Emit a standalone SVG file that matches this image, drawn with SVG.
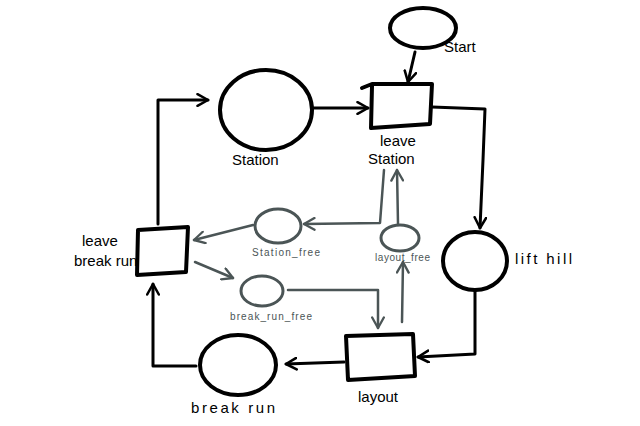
<svg xmlns="http://www.w3.org/2000/svg" width="640" height="426" viewBox="0 0 640 426">
<defs>
<marker id="ab" viewBox="0 0 12 12" refX="10" refY="6" markerWidth="14" markerHeight="14" markerUnits="userSpaceOnUse" orient="auto">
<path d="M1,1 L10,6 L1,11" fill="none" stroke="#000" stroke-width="2.2" stroke-linecap="round" stroke-linejoin="round"/>
</marker>
<marker id="ag" viewBox="0 0 12 12" refX="10" refY="6" markerWidth="14" markerHeight="14" markerUnits="userSpaceOnUse" orient="auto">
<path d="M1,1 L10,6 L1,11" fill="none" stroke="#4b5556" stroke-width="2" stroke-linecap="round" stroke-linejoin="round"/>
</marker>
<style>
.k{fill:none;stroke:#000;stroke-width:4;stroke-linecap:round;stroke-linejoin:round}
.kt{fill:none;stroke:#000;stroke-width:3;stroke-linecap:round;stroke-linejoin:round}
.g{fill:none;stroke:#4b5556;stroke-width:3;stroke-linecap:round;stroke-linejoin:round}
.gt{fill:none;stroke:#4b5556;stroke-width:2.5;stroke-linecap:round;stroke-linejoin:round}
.t{font-family:"Liberation Sans",Arial,sans-serif;font-size:15px;fill:#000}
.ts{font-family:"Liberation Sans",Arial,sans-serif;font-size:10px;fill:#4b5556}
</style>
</defs>
<rect width="640" height="426" fill="#fff"/>

<g id="connectors">
<path class="kt" d="M415,52 L408,82" marker-end="url(#ab)"/>
<path class="kt" d="M312,108 L368,108" marker-end="url(#ab)"/>
<path class="kt" d="M432,107 L485,109 L483,160 L480,228" marker-end="url(#ab)"/>
<path class="kt" d="M475,290 L475,354 L418,357" marker-end="url(#ab)"/>
<path class="kt" d="M344,362 L286,364" marker-end="url(#ab)"/>
<path class="kt" d="M196,366 L153,366 L153,284" marker-end="url(#ab)"/>
<path class="kt" d="M158,224 L158,100 L208,100" marker-end="url(#ab)"/>
<path class="gt" d="M398,224 L397,170" marker-end="url(#ag)"/>
<path class="gt" d="M384,170 L380,223 L304,224" marker-end="url(#ag)"/>
<path class="gt" d="M253,225 L194,240" marker-end="url(#ag)"/>
<path class="gt" d="M195,262 L233,278" marker-end="url(#ag)"/>
<path class="gt" d="M288,290 L378,290 L378,328" marker-end="url(#ag)"/>
<path class="gt" d="M402,322 L403,262" marker-end="url(#ag)"/>
</g>

<g id="start">
<ellipse class="k" cx="423" cy="28" rx="33" ry="20"/>
<text class="t" x="444" y="52">Start</text>
</g>

<g id="station">
<ellipse class="k" cx="266" cy="110" rx="46" ry="40"/>
<text class="t" x="232" y="165">Station</text>
</g>

<g id="leave-station">
<path class="k" d="M362,88 L372,84 L432,84 L430,124 L371,128 L372,86"/>
<text class="t" x="380" y="146">leave</text>
<text class="t" x="368" y="164">Station</text>
</g>

<g id="lift-hill">
<ellipse class="k" cx="475" cy="261" rx="32" ry="29"/>
<text class="t" x="515" y="264" textLength="57">lift hill</text>
</g>

<g id="layout">
<path class="k" d="M346,336 L413,334 L415,376 L348,380 Z"/>
<text class="t" x="358" y="402">layout</text>
</g>

<g id="break-run">
<ellipse class="k" cx="238" cy="365" rx="38" ry="30"/>
<text class="t" x="191" y="413" textLength="84">break run</text>
</g>

<g id="leave-break-run">
<path class="k" d="M138,230 L188,227 L186,272 L137,275 Z"/>
<text class="t" x="82" y="246">leave</text>
<text class="t" x="74" y="266">break run</text>
</g>

<g id="station-free">
<ellipse class="g" cx="278" cy="226" rx="23" ry="17"/>
<text class="ts" x="252" y="256" textLength="68">Station_free</text>
</g>

<g id="layout-free">
<ellipse class="g" cx="400" cy="238" rx="19" ry="13"/>
<text class="ts" x="375" y="261" textLength="55">layout_free</text>
</g>

<g id="break-run-free">
<ellipse class="g" cx="262" cy="291" rx="21" ry="15"/>
<text class="ts" x="230" y="320" textLength="82">break_run_free</text>
</g>
</svg>
